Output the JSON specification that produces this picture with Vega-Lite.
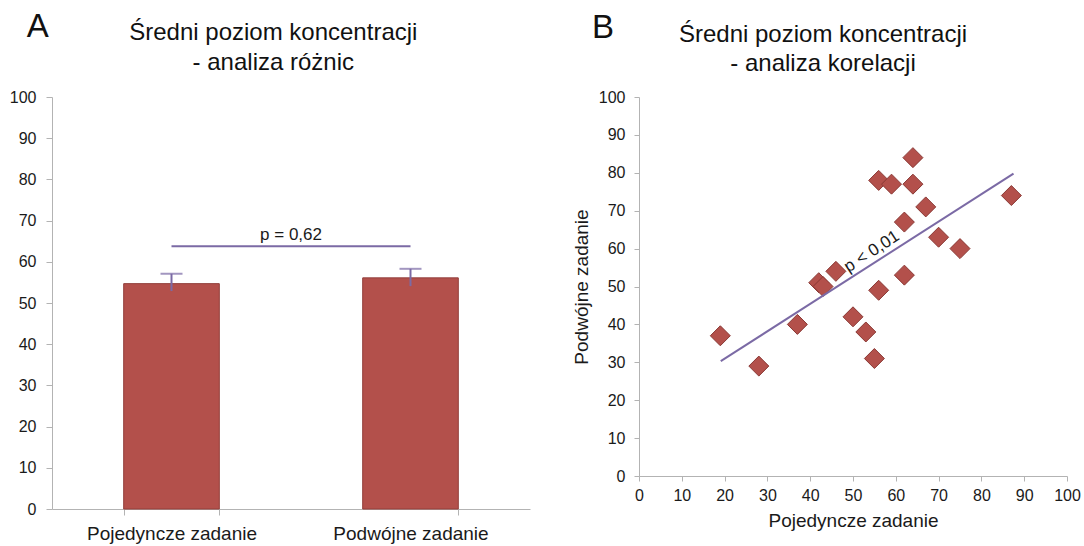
{
  "$schema": "https://vega.github.io/schema/vega-lite/v6.json",
  "background": "white",
  "padding": {"left": 9, "top": 10, "right": 1, "bottom": 2},
  "spacing": 42,
  "datasets": {
    "bars": [
      {"zadanie": "Pojedyncze zadanie", "mean": 54.7, "lo": 52.9, "hi": 57.1},
      {"zadanie": "Podwójne zadanie", "mean": 56.1, "lo": 54.1, "hi": 58.3}
    ],
    "sig": [
      {"from": "Pojedyncze zadanie", "to": "Podwójne zadanie", "y": 63.8, "ty": 66.6, "label": "p = 0,62"}
    ],
    "headA": [
      {"zadanie": "Pojedyncze zadanie", "label": "A", "y": 114.6},
      {"zadanie": "Pojedyncze zadanie", "label": "Średni poziom koncentracji\n- analiza różnic", "y": 113.8}
    ],
    "headB": [
      {"label": "B", "x": -8.4, "y": 115.5},
      {"label": "Średni poziom koncentracji\n- analiza korelacji", "x": 43.0, "y": 114.4}
    ],
    "points": [
      {"poj": 19, "podw": 37},
      {"poj": 28, "podw": 29},
      {"poj": 37, "podw": 40},
      {"poj": 42, "podw": 51},
      {"poj": 43, "podw": 50},
      {"poj": 46, "podw": 54},
      {"poj": 50, "podw": 42},
      {"poj": 53, "podw": 38},
      {"poj": 55, "podw": 31},
      {"poj": 56, "podw": 49},
      {"poj": 56, "podw": 78},
      {"poj": 59, "podw": 77},
      {"poj": 62, "podw": 53},
      {"poj": 62, "podw": 67},
      {"poj": 64, "podw": 84},
      {"poj": 64, "podw": 77},
      {"poj": 67, "podw": 71},
      {"poj": 70, "podw": 63},
      {"poj": 75, "podw": 60},
      {"poj": 87, "podw": 74}
    ],
    "fit": [{"x1": 19.1, "y1": 30.3, "x2": 87.5, "y2": 79.8}],
    "corr": [{"x": 54.4, "y": 59.2, "label": "p < 0,01"}]
  },
  "hconcat": [
    {
      "width": 478,
      "height": 412,
      "layer": [
        {
          "data": {"name": "bars"},
          "mark": {"type": "bar", "color": "#b3504b", "stroke": "#923e3a", "strokeWidth": 1},
          "encoding": {
            "x": {
              "field": "zadanie", "type": "nominal", "sort": null,
              "scale": {"domain": ["Pojedyncze zadanie", "Podwójne zadanie"], "paddingInner": 0.6, "paddingOuter": 0.3},
              "axis": {"title": null, "labelAngle": 0, "labelFontSize": 19, "labelPadding": 9, "tickBand": "extent", "tickSize": 6}
            },
            "y": {
              "field": "mean", "type": "quantitative",
              "scale": {"domain": [0, 100], "nice": false},
              "axis": {"title": null, "values": [0, 10, 20, 30, 40, 50, 60, 70, 80, 90, 100], "tickSize": 6, "labelPadding": 10}
            }
          }
        },
        {
          "data": {"name": "bars"},
          "mark": {"type": "rule", "color": "#7b6aa5", "strokeWidth": 2},
          "encoding": {
            "x": {"field": "zadanie", "type": "nominal", "sort": null},
            "y": {"field": "lo", "type": "quantitative"},
            "y2": {"field": "hi"}
          }
        },
        {
          "data": {"name": "bars"},
          "mark": {"type": "tick", "color": "#7b6aa5", "thickness": 2, "size": 22},
          "encoding": {
            "x": {"field": "zadanie", "type": "nominal", "sort": null},
            "y": {"field": "hi", "type": "quantitative"}
          }
        },
        {
          "data": {"name": "sig"},
          "mark": {"type": "rule", "color": "#7b6aa5", "strokeWidth": 2},
          "encoding": {
            "x": {"field": "from", "type": "nominal", "sort": null},
            "x2": {"field": "to"},
            "y": {"field": "y", "type": "quantitative"}
          }
        },
        {
          "data": {"name": "sig"},
          "mark": {"type": "text", "fontSize": 17, "color": "#1a1a1a", "baseline": "middle", "align": "center"},
          "encoding": {
            "x": {"field": "from", "type": "nominal", "sort": null, "bandPosition": 1.75},
            "y": {"field": "ty", "type": "quantitative"},
            "text": {"field": "label"}
          }
        },
        {
          "data": {"name": "headA"},
          "transform": [{"filter": "datum.label == 'A'"}],
          "mark": {"type": "text", "fontSize": 33, "color": "#111", "baseline": "alphabetic", "align": "center", "clip": false},
          "encoding": {
            "x": {"field": "zadanie", "type": "nominal", "sort": null, "bandPosition": -0.9},
            "y": {"field": "y", "type": "quantitative"},
            "text": {"field": "label"}
          }
        },
        {
          "data": {"name": "headA"},
          "transform": [{"filter": "datum.label != 'A'"}],
          "mark": {"type": "text", "fontSize": 24, "color": "#111", "baseline": "alphabetic", "align": "center", "lineBreak": "\n", "lineHeight": 29.5, "clip": false},
          "encoding": {
            "x": {"field": "zadanie", "type": "nominal", "sort": null, "bandPosition": 1.565},
            "y": {"field": "y", "type": "quantitative"},
            "text": {"field": "label"}
          }
        }
      ]
    },
    {
      "width": 428,
      "height": 379,
      "layer": [
        {
          "data": {"name": "points"},
          "mark": {"type": "point", "shape": "diamond", "filled": true, "size": 400, "color": "#b3504b", "stroke": "#8a3935", "strokeWidth": 1, "opacity": 1},
          "encoding": {
            "x": {"field": "poj", "type": "quantitative",
              "scale": {"domain": [0, 100], "nice": false},
              "axis": {"title": "Pojedyncze zadanie", "values": [0, 10, 20, 30, 40, 50, 60, 70, 80, 90, 100], "tickCount": 11, "tickSize": 5, "labelPadding": 6, "titlePadding": 8, "labelFlush": false, "labelOverlap": false}},
            "y": {"field": "podw", "type": "quantitative",
              "scale": {"domain": [0, 100], "nice": false},
              "axis": {"title": "Podwójne zadanie", "values": [0, 10, 20, 30, 40, 50, 60, 70, 80, 90, 100], "tickCount": 11, "tickSize": 5, "labelPadding": 9, "titlePadding": 7, "labelFlush": false, "labelOverlap": false}}
          }
        },
        {
          "data": {"name": "fit"},
          "mark": {"type": "rule", "color": "#7b6aa5", "strokeWidth": 2},
          "encoding": {
            "x": {"field": "x1", "type": "quantitative"},
            "y": {"field": "y1", "type": "quantitative"},
            "x2": {"field": "x2"},
            "y2": {"field": "y2"}
          }
        },
        {
          "data": {"name": "corr"},
          "mark": {"type": "text", "fontSize": 17, "color": "#1a1a1a", "angle": -33, "baseline": "middle", "align": "center"},
          "encoding": {
            "x": {"field": "x", "type": "quantitative"},
            "y": {"field": "y", "type": "quantitative"},
            "text": {"field": "label"}
          }
        },
        {
          "data": {"name": "headB"},
          "transform": [{"filter": "datum.label == 'B'"}],
          "mark": {"type": "text", "fontSize": 33, "color": "#111", "baseline": "alphabetic", "align": "center", "clip": false},
          "encoding": {
            "x": {"field": "x", "type": "quantitative"},
            "y": {"field": "y", "type": "quantitative"},
            "text": {"field": "label"}
          }
        },
        {
          "data": {"name": "headB"},
          "transform": [{"filter": "datum.label != 'B'"}],
          "mark": {"type": "text", "fontSize": 24, "color": "#111", "baseline": "alphabetic", "align": "center", "lineBreak": "\n", "lineHeight": 28.5, "clip": false},
          "encoding": {
            "x": {"field": "x", "type": "quantitative"},
            "y": {"field": "y", "type": "quantitative"},
            "text": {"field": "label"}
          }
        }
      ]
    }
  ],
  "config": {
    "font": "Liberation Sans",
    "view": {"stroke": null},
    "axis": {
      "grid": false,
      "labelOverlap": false,
      "labelFlush": false,
      "domainColor": "#b3b3b3",
      "tickColor": "#b3b3b3",
      "labelColor": "#1a1a1a",
      "labelFont": "Liberation Sans",
      "labelFontSize": 16,
      "titleFont": "Liberation Sans",
      "titleFontWeight": "normal",
      "titleFontSize": 19,
      "titleColor": "#1a1a1a"
    }
  }
}
